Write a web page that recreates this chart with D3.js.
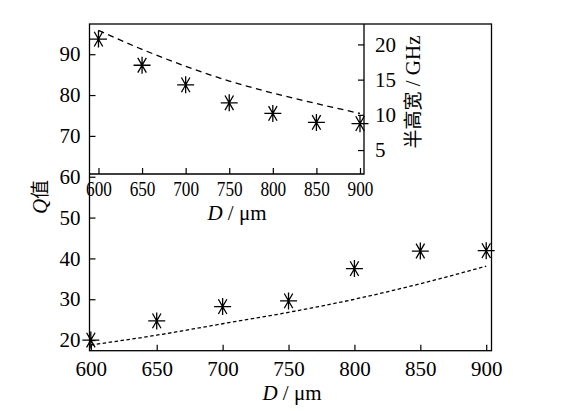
<!DOCTYPE html>
<html>
<head>
<meta charset="utf-8">
<script src="https://cdn.jsdelivr.net/npm/d3@7"></script>
<style>
  body { margin: 0; background: #fff; }
  text { font-family: "Liberation Serif", "Times New Roman", serif; fill: #000; }
  .cjk { font-family: "Noto Sans CJK SC", sans-serif; }
</style>
</head>
<body>
<svg id="chart" width="562" height="411"></svg>
<script>
// D in um
let dVals = [600, 650, 700, 750, 800, 850, 900];
// main plot: Q measured (stars) and Q theory (dashed)
let qMeasured = [20.0, 24.7, 28.2, 29.6, 37.5, 41.8, 41.9];
let qTheory = [18.8, 21.2, 24.0, 26.8, 30.0, 33.8, 38.1];
// inset: Q (left axis) and FWHM in GHz (right axis)
let qInset = [93.7, 87.3, 82.5, 78.1, 75.5, 73.3, 73.0];
let fwhmInset = [22.0, 19.3, 16.9, 14.8, 13.1, 11.6, 10.2];

let qTicks = [20, 30, 40, 50, 60, 70, 80, 90];
let dTicks = [600, 650, 700, 750, 800, 850, 900];
let fwhmTicks = [5, 10, 15, 20];

let svg = d3.select('#chart');

let mLeft = 89.5, mRight = 491.5, mTop = 24, mBottom = 350.7;
let inRight = 364, inBottom = 174;

let x = d3.scaleLinear().domain([599, 904]).range([mLeft, mRight]);
let y = d3.scaleLinear().domain([17.4, 97.4]).range([mBottom, mTop]);
let xIn = d3.scaleLinear().domain([589.7, 904.6]).range([mLeft, inRight]);
let yIn = d3.scaleLinear().domain([1.6, 22.9]).range([inBottom, mTop]);

// star marker, 8 arms
function star(r) {
  let p = '';
  [0, 90, 60, 120].forEach(a => {
    let t = a * Math.PI / 180;
    let dx = r * Math.cos(t), dy = r * Math.sin(t);
    p += `M${-dx},${-dy}L${dx},${dy}`;
  });
  return p;
}

// frames
svg.append('rect').attr('x', mLeft).attr('y', mTop)
  .attr('width', mRight - mLeft).attr('height', mBottom - mTop)
  .attr('fill', 'none').attr('stroke', '#000').attr('stroke-width', 1.3);
svg.append('path')
  .attr('d', `M${inRight},${mTop}V${inBottom}H${mLeft}`)
  .attr('fill', 'none').attr('stroke', '#000').attr('stroke-width', 1.3);

// left y axis (shared)
let yAxis = svg.append('g').attr('transform', `translate(${mLeft},0)`)
  .call(d3.axisLeft(y).tickValues(qTicks).tickSizeInner(-6).tickSizeOuter(0).tickPadding(9));
// main x axis
let xAxis = svg.append('g').attr('transform', `translate(0,${mBottom})`)
  .call(d3.axisBottom(x).tickValues(dTicks).tickSizeInner(-6).tickSizeOuter(0).tickPadding(10));
// inset x axis
let xInAxis = svg.append('g').attr('transform', `translate(0,${inBottom})`)
  .call(d3.axisBottom(xIn).tickValues(dTicks).tickSizeInner(-6).tickSizeOuter(0).tickPadding(7));
// inset right axis
let yInAxis = svg.append('g').attr('transform', `translate(${inRight},0)`)
  .call(d3.axisRight(yIn).tickValues(fwhmTicks).tickSizeInner(-6).tickSizeOuter(0).tickPadding(11));

[yAxis, xAxis, xInAxis, yInAxis].forEach(g => {
  g.select('.domain').remove();
  g.selectAll('line').attr('stroke', '#000').attr('stroke-width', 1.2);
  g.selectAll('text').style('font-family', '"Liberation Serif", serif').style('font-size', '21px').attr('fill', '#000');
});
xInAxis.selectAll('text').attr('transform', 'scale(0.82,1)');

// main series
let mainData = dVals.map((d, i) => ({d: d, qm: qMeasured[i], qt: qTheory[i]}));
svg.append('path').datum(mainData)
  .attr('d', d3.line().x(p => x(p.d)).y(p => y(p.qt)).curve(d3.curveMonotoneX))
  .attr('fill', 'none').attr('stroke', '#000').attr('stroke-width', 1.3)
  .attr('stroke-dasharray', '3.5,2.5');
svg.append('g').selectAll('path').data(mainData).enter().append('path')
  .attr('transform', p => `translate(${x(p.d)},${y(p.qm)})`)
  .attr('d', star(8.5))
  .attr('stroke', '#000').attr('stroke-width', 1.3).attr('fill', 'none');

// inset series
let inData = dVals.map((d, i) => ({d: d, q: qInset[i], f: fwhmInset[i]}));
svg.append('path').datum(inData)
  .attr('d', d3.line().x(p => xIn(p.d)).y(p => yIn(p.f)).curve(d3.curveMonotoneX))
  .attr('fill', 'none').attr('stroke', '#000').attr('stroke-width', 1.3)
  .attr('stroke-dasharray', '6,4.5');
svg.append('g').selectAll('path').data(inData).enter().append('path')
  .attr('transform', p => `translate(${xIn(p.d)},${y(p.q)})`)
  .attr('d', star(8.5))
  .attr('stroke', '#000').attr('stroke-width', 1.3).attr('fill', 'none');

// titles
function dTitle(cx, by) {
  let t = svg.append('text').attr('x', cx).attr('y', by)
    .attr('text-anchor', 'middle').style('font-size', '21px');
  t.append('tspan').style('font-style', 'italic').text('D');
  t.append('tspan').text(' / μm');
}
dTitle(292, 400);
dTitle(237, 220);

let qt = svg.append('text').attr('transform', 'translate(47,197) rotate(-90)')
  .attr('text-anchor', 'middle').style('font-size', '21px');
qt.append('tspan').style('font-style', 'italic').text('Q');
qt.append('tspan').attr('class', 'cjk').style('font-size', '19px').text('值');

let ft = svg.append('text').attr('transform', 'translate(420,92) rotate(-90)')
  .attr('text-anchor', 'middle').style('font-size', '21px');
ft.append('tspan').attr('class', 'cjk').style('font-size', '19px').text('半高宽');
ft.append('tspan').text(' / GHz');
</script>
</body>
</html>
